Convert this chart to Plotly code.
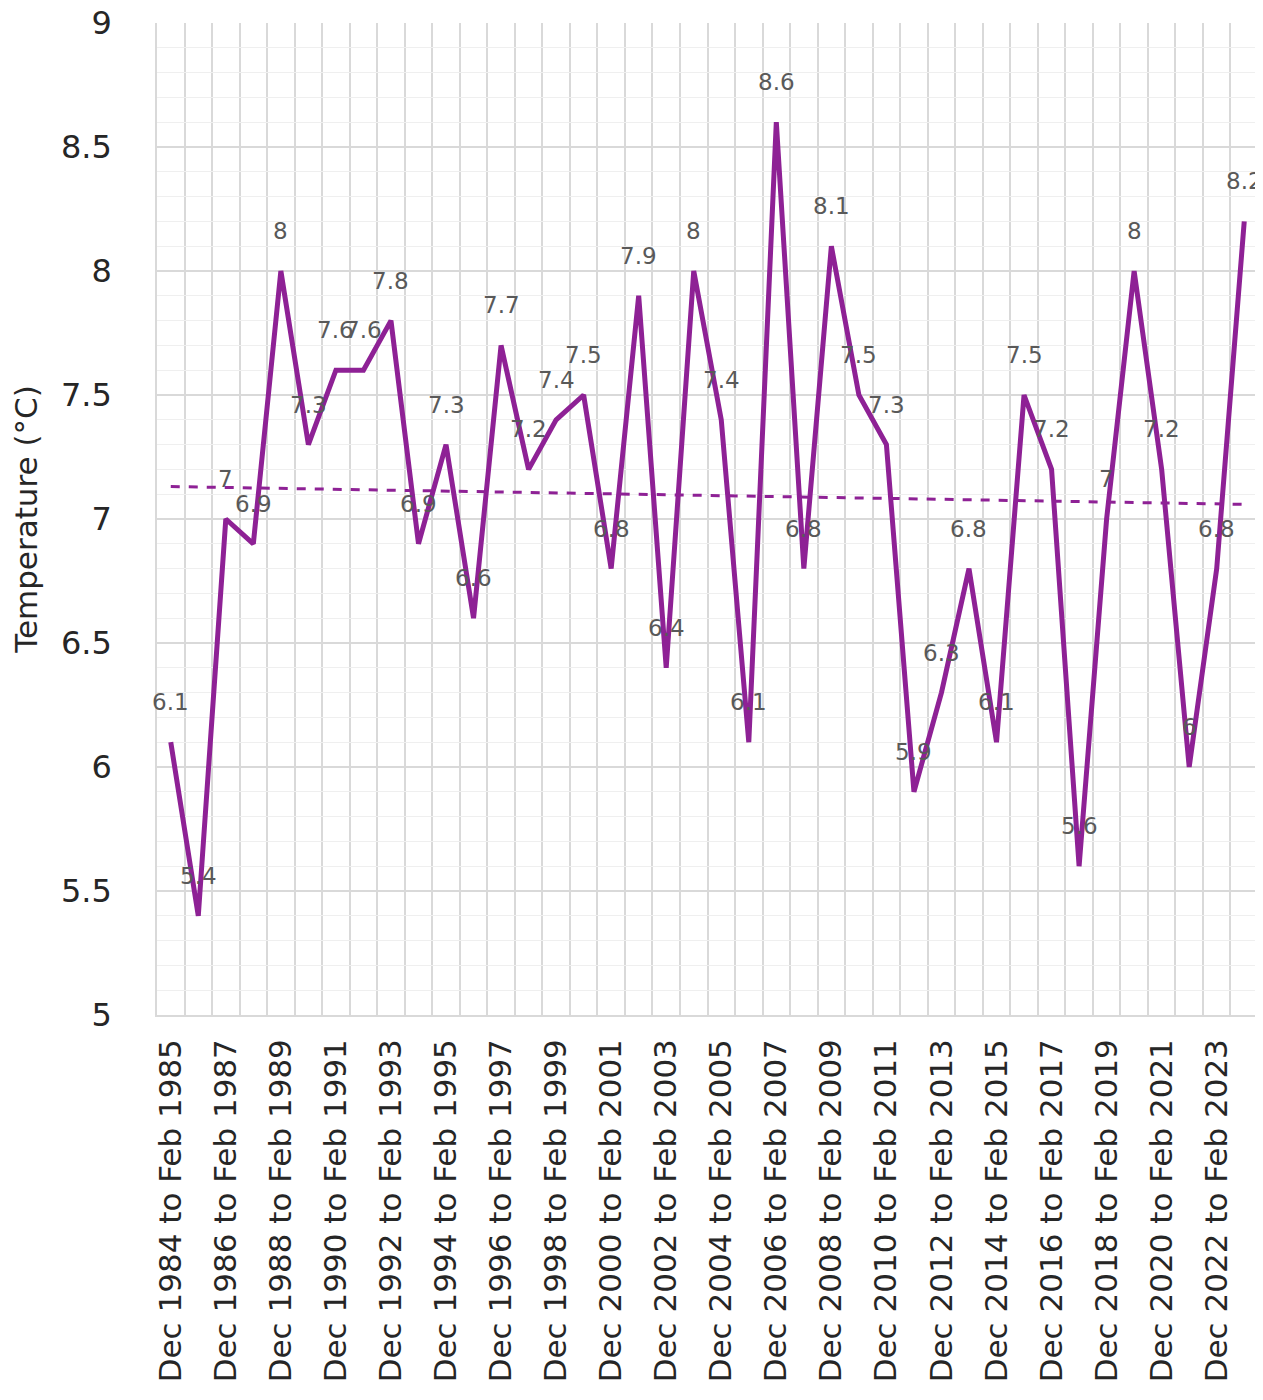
import numpy as np
import plotly.graph_objects as go

# winter (Dec-Feb) mean temperature per season
start_years = list(range(1984, 2024))
temps = [6.1, 5.4, 7.0, 6.9, 8.0, 7.3, 7.6, 7.6, 7.8, 6.9,
         7.3, 6.6, 7.7, 7.2, 7.4, 7.5, 6.8, 7.9, 6.4, 8.0,
         7.4, 6.1, 8.6, 6.8, 8.1, 7.5, 7.3, 5.9, 6.3, 6.8,
         6.1, 7.5, 7.2, 5.6, 7.0, 8.0, 7.2, 6.0, 6.8, 8.2]
labels = [f"Dec {y} to Feb {y + 1}" for y in start_years]
y_ticks = [5, 5.5, 6, 6.5, 7, 7.5, 8, 8.5, 9]

purple = "#8E2195"
font_family = "DejaVu Sans"

x = np.arange(len(temps))
slope, intercept = np.polyfit(x, temps, 1)
trend = slope * x + intercept

fig = go.Figure()
fig.add_trace(go.Scatter(
    x=x, y=temps, mode="lines",
    line=dict(color=purple, width=5),
    showlegend=False,
))
fig.add_trace(go.Scatter(
    x=x, y=trend, mode="lines",
    line=dict(color=purple, width=3, dash="dash"),
    showlegend=False,
))

# data labels sit above each point
for i, v in enumerate(temps):
    fig.add_annotation(
        x=i, y=v, text=f"{v:g}", showarrow=False,
        yshift=40, font=dict(size=23, color="#595959", family=font_family),
    )

# page body adds an 8px offset, so the figure is sized to compensate
fig.update_layout(
    width=1255, height=1392,
    margin=dict(l=149, r=5, t=15, b=385),
    plot_bgcolor="white", paper_bgcolor="white",
    font=dict(family=font_family, color="#262626"),
)
fig.update_xaxes(
    range=[-0.5, len(temps) - 0.5], automargin=False,
    tickvals=x[::2], ticktext=labels[::2],
    tickangle=-90, tickfont=dict(size=31, color="#262626"),
    showgrid=False, ticks="", ticklabelstandoff=10, ticklabeloverflow="allow",
    minor=dict(showgrid=True, tick0=-0.5, dtick=1, gridcolor="#d9d9d9", gridwidth=1.5),
    showline=True, linecolor="#d9d9d9", linewidth=1.5, zeroline=False,
)
fig.update_yaxes(
    range=[5, 9], automargin=False,
    tickvals=y_ticks, ticktext=[f"{t:g}" for t in y_ticks],
    tickfont=dict(size=32, color="#262626"), ticklabeloverflow="allow",
    showgrid=True, gridcolor="#d9d9d9", gridwidth=1.5,
    minor=dict(showgrid=True, dtick=0.1, gridcolor="#efefef", gridwidth=1),
    ticks="", ticklabelstandoff=37, zeroline=False,
    showline=True, mirror=True, linecolor="#d9d9d9", linewidth=1.5,
    title=dict(text="Temperature (°C)", font=dict(size=31, color="#262626"), standoff=24),
)

fig.write_html("out.html")
